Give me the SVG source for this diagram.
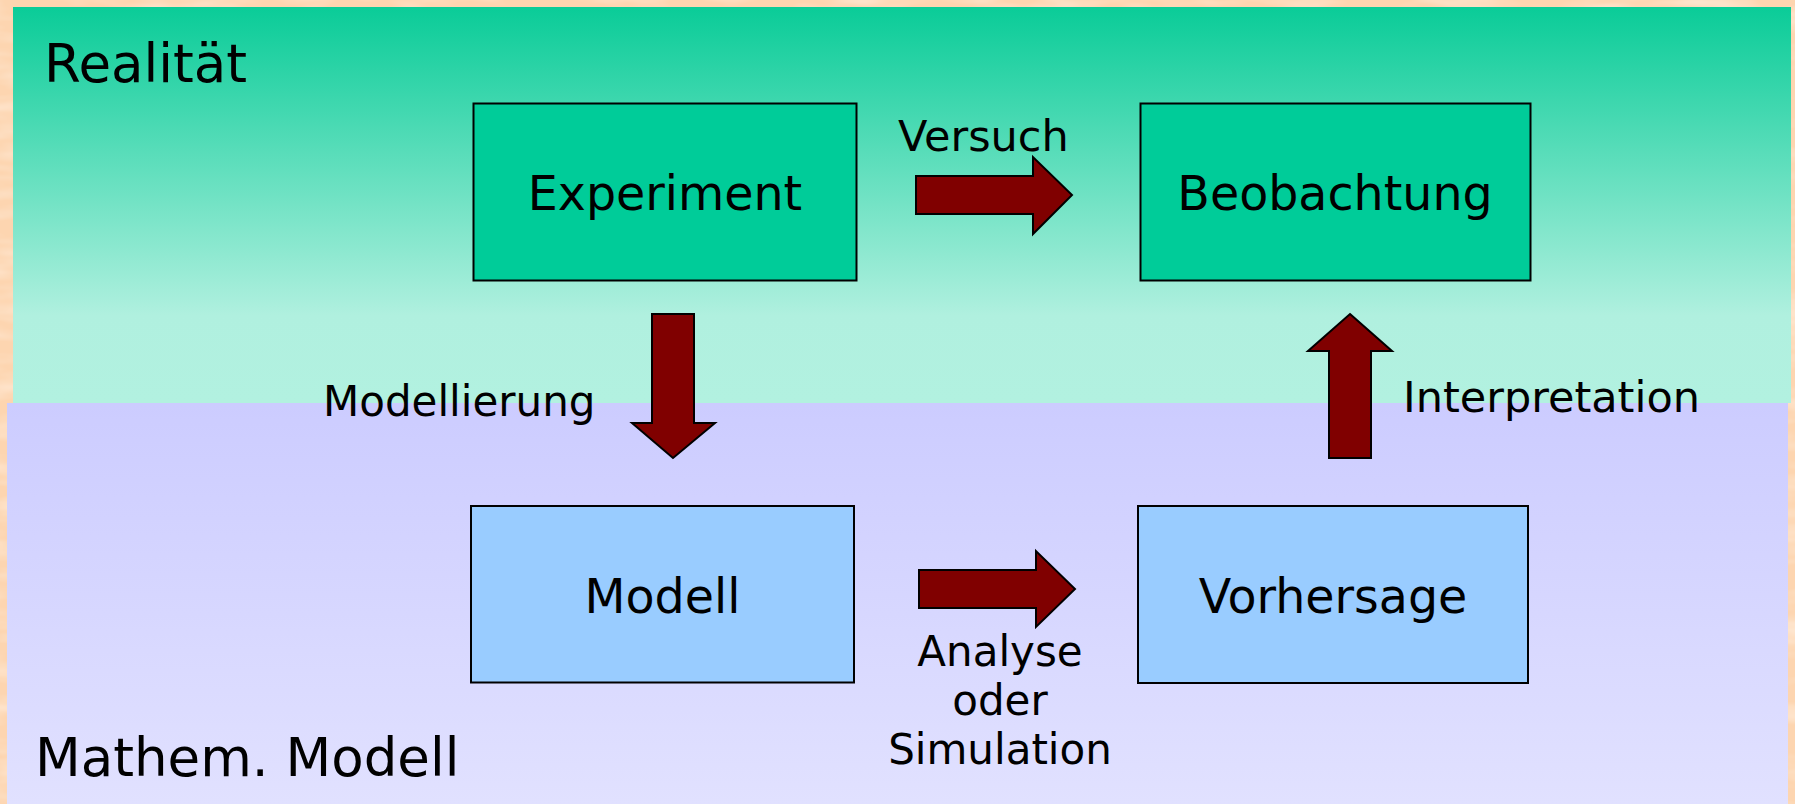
<svg xmlns="http://www.w3.org/2000/svg" width="1795" height="804" viewBox="0 0 1795 804">
  <defs>
    <linearGradient id="gradReal" x1="0" y1="0" x2="0" y2="1">
      <stop offset="0" stop-color="#0acc98"/>
      <stop offset="0.78" stop-color="#b0f0df"/>
      <stop offset="1" stop-color="#b2f1e0"/>
    </linearGradient>
    <linearGradient id="gradMath" x1="0" y1="0" x2="0" y2="1">
      <stop offset="0" stop-color="#ccccff"/>
      <stop offset="1" stop-color="#e1e1ff"/>
    </linearGradient>
    <filter id="paper" x="0" y="0" width="100%" height="100%">
      <feTurbulence type="fractalNoise" baseFrequency="0.012 0.05" numOctaves="3" seed="4" result="n"/>
      <feColorMatrix in="n" type="matrix" values="0 0 0 0 1  0 0 0 0 0.93  0 0 0 0 0.86  0 0 0 1.1 -0.45"/>
    </filter>
    <style>
      .txt { font-family: "DejaVu Sans", Verdana, sans-serif; fill: #000; }
      .region { font-size: 53px; }
      .node { font-size: 47.5px; text-anchor: middle; }
      .lbl { font-size: 42px; }
      .real { fill: #00cc99; stroke: #000; stroke-width: 2; }
      .math { fill: #99ccff; stroke: #000; stroke-width: 2; }
      .arrow { fill: #800000; stroke: #000; stroke-width: 2; stroke-linejoin: miter; }
    </style>
  </defs>

  <!-- parchment backdrop -->
  <rect x="0" y="0" width="1795" height="804" fill="#fdd5b0"/>
  <rect x="0" y="0" width="1795" height="804" filter="url(#paper)"/>

  <!-- two layers: reality above, mathematical model below -->
  <g id="layer-realitaet">
    <rect x="13" y="7" width="1778" height="396" fill="url(#gradReal)"/>
    <text class="txt region" x="44" y="82">Realität</text>
  </g>
  <g id="layer-modell">
    <rect x="7" y="403" width="1781" height="401" fill="url(#gradMath)"/>
    <text class="txt region" x="35" y="776">Mathem. Modell</text>
  </g>

  <g id="experiment">
    <rect class="real" x="473.5" y="103.5" width="383" height="177"/>
    <text class="txt node" x="665" y="210">Experiment</text>
  </g>
  <g id="beobachtung">
    <rect class="real" x="1140.5" y="103.5" width="390" height="177"/>
    <text class="txt node" x="1335" y="210">Beobachtung</text>
  </g>
  <g id="modell">
    <rect class="math" x="471" y="506" width="383" height="176.5"/>
    <text class="txt node" x="662.5" y="613">Modell</text>
  </g>
  <g id="vorhersage">
    <rect class="math" x="1138" y="506" width="390" height="177"/>
    <text class="txt node" x="1333" y="613">Vorhersage</text>
  </g>

  <g id="connectors">
    <!-- Experiment to Beobachtung -->
    <polygon class="arrow" points="916,176 1033,176 1033,157 1072,195 1033,234 1033,214 916,214"/>
    <text class="txt lbl" x="898" y="151" style="font-size:43px">Versuch</text>
    <!-- Experiment to Modell -->
    <polygon class="arrow" points="652,314 694,314 694,423 715,423 673,458 632,423 652,423"/>
    <text class="txt lbl" x="323" y="416">Modellierung</text>
    <!-- Modell to Vorhersage -->
    <polygon class="arrow" points="919,570 1036,570 1036,551 1075,589 1036,627 1036,608 919,608"/>
    <text class="txt lbl" x="1000" y="666" text-anchor="middle">Analyse</text>
    <text class="txt lbl" x="1000" y="715" text-anchor="middle">oder</text>
    <text class="txt lbl" x="1000" y="764" text-anchor="middle">Simulation</text>
    <!-- Vorhersage to Beobachtung -->
    <polygon class="arrow" points="1350,314 1392,351 1371,351 1371,458 1329,458 1329,351 1308,351"/>
    <text class="txt lbl" x="1403" y="412" style="font-size:43px">Interpretation</text>
  </g>
</svg>
